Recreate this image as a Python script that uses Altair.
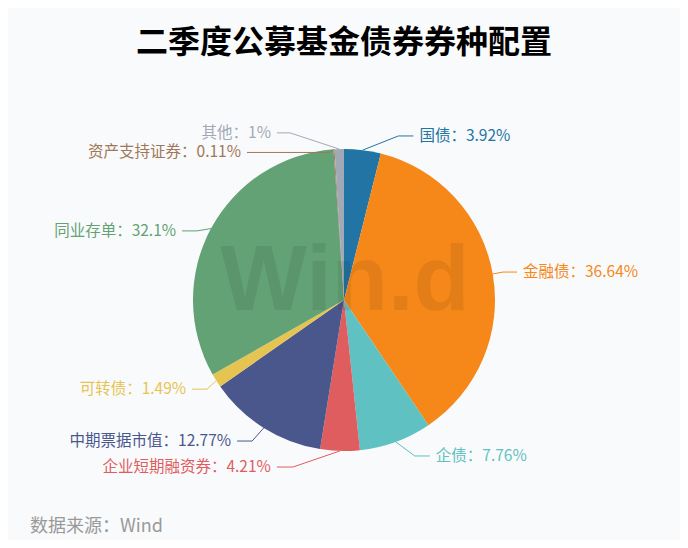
import altair as alt
import pandas as pd

# ---- data ----
categories = ["国债", "金融债", "企债", "企业短期融资券", "中期票据市值",
              "可转债", "同业存单", "资产支持证券", "其他"]
values = [3.92, 36.64, 7.76, 4.21, 12.77, 1.49, 32.1, 0.11, 1]
colors = ["#2274a5", "#f68819", "#5fc1c1", "#e05d5f", "#4a578c",
          "#e6c452", "#62a274", "#a07858", "#a2a9b6"]

title_text = "二季度公募基金债券券种配置"
source_text = "数据来源：Wind"
watermark_text = "Win.d"

# ---- layout ----
W, H = 672, 532
CX, CY = 336, 292
R = 151
L1 = 15
label_dx = [34, -4.5, 14, -46.7, -3.7, 3.5, -0.7, -3, -48.8]
label_dy = [0.7, 0.7, 0, 1.1, 0.4, 0.6, 9.4, 18.1, -1.2]
label_len2 = [15, 14, 15, 16, 15, 15, 15, 83, 13]
GAP = 6
FONT = "Noto Sans CJK SC"

df = pd.DataFrame({
    "category": categories,
    "value": values,
    "idx": list(range(len(categories))),
    "dx": label_dx,
    "dy": label_dy,
    "len2": label_len2,
})

xs = alt.Scale(domain=[-CX, W - CX], nice=False, zero=False)
ys = alt.Scale(domain=[-CY, H - CY], nice=False, zero=False, reverse=True)
cs = alt.Scale(domain=categories, range=colors)
color = alt.Color("category:N", scale=cs, legend=None)

base = alt.Chart(df)

pie = base.mark_arc(outerRadius=R).encode(
    theta=alt.Theta("value:Q", stack=True),
    order=alt.Order("idx:Q"),
    color=color,
    x=alt.XDatum(0, type="quantitative", scale=xs, axis=None),
    y=alt.YDatum(0, type="quantitative", scale=ys, axis=None),
)

geo = base.transform_window(
    cum="sum(value)", sort=[alt.SortField("idx")], frame=[None, 0]
).transform_joinaggregate(
    total="sum(value)"
).transform_calculate(
    mid="(datum.cum - datum.value/2) / datum.total * 2 * PI"
).transform_calculate(
    ax=f"{R} * sin(datum.mid)",
    ay=f"-{R} * cos(datum.mid)",
    ex=f"{R + L1} * sin(datum.mid) + datum.dx",
    ey=f"-{R + L1} * cos(datum.mid) + datum.dy",
    side="sin(datum.mid) >= 0 ? 1 : -1",
).transform_calculate(
    hx="datum.ex + datum.side * datum.len2",
).transform_calculate(
    tx=f"datum.hx + datum.side * {GAP}",
    label="datum.category + '：' + datum.value + '%'",
)

seg1 = geo.mark_rule(strokeWidth=1).encode(
    x=alt.X("ax:Q", scale=xs, axis=None), x2="ex:Q",
    y=alt.Y("ay:Q", scale=ys, axis=None), y2="ey:Q",
    color=color,
)
seg2 = geo.mark_rule(strokeWidth=1).encode(
    x=alt.X("ex:Q", scale=xs, axis=None), x2="hx:Q",
    y=alt.Y("ey:Q", scale=ys, axis=None), y2="ey:Q",
    color=color,
)

def labels(cond, align):
    return geo.transform_filter(cond).mark_text(
        align=align, baseline="middle", font=FONT, fontSize=15.5
    ).encode(
        x=alt.X("tx:Q", scale=xs, axis=None),
        y=alt.Y("ey:Q", scale=ys, axis=None),
        text="label:N",
        color=color,
    )

lab_r = labels("datum.side > 0", "left")
lab_l = labels("datum.side < 0", "right")

one = alt.Data(values=[{"a": 1}])

watermark = alt.Chart(one).mark_text(
    text=watermark_text, font="Liberation Sans", fontWeight="bold",
    fontSize=92, align="center", baseline="alphabetic",
    color="#000000", opacity=0.07,
).encode(x=alt.value(CX + 1), y=alt.value(CY + 10))

title = alt.Chart(one).mark_text(
    text=title_text, font=FONT, fontWeight="bold", fontSize=32,
    align="center", baseline="middle", color="#000000",
).encode(x=alt.value(CX), y=alt.value(35))

source = alt.Chart(one).mark_text(
    text=source_text, font=FONT, fontSize=18,
    align="left", baseline="middle", color="#999999",
).encode(x=alt.value(22), y=alt.value(519))

chart = alt.layer(
    pie, watermark, seg1, seg2, lab_r, lab_l, title, source
).properties(
    width=W, height=H, padding=0, autosize=alt.AutoSizeParams(type="none"),
    background="#f9fafc",
).configure_view(stroke=None)

chart.save("out.html", embed_options={"renderer": "svg", "actions": False})
